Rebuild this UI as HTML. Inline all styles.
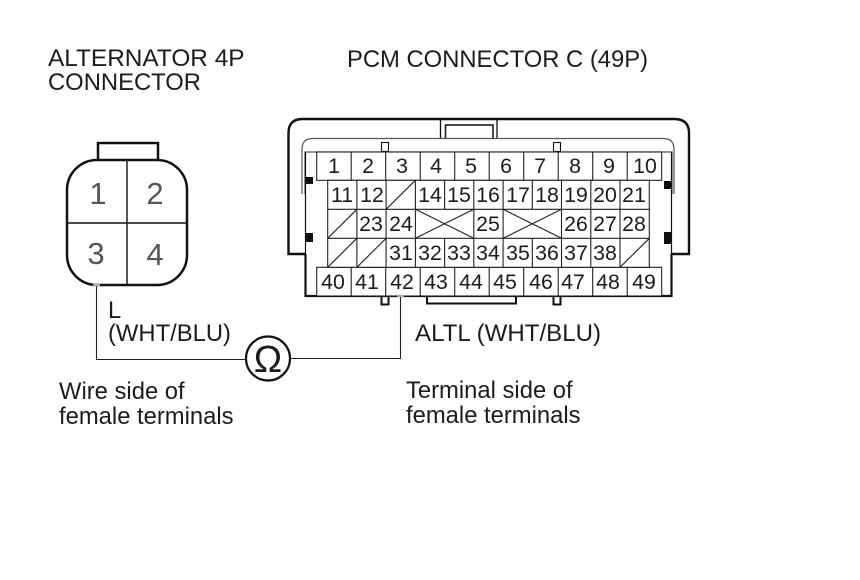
<!DOCTYPE html>
<html><head><meta charset="utf-8"><style>
html,body{margin:0;padding:0;background:#fff}
svg{display:block}
text{font-family:"Liberation Sans",sans-serif;fill:#1c1c1c}
.t{font-size:23.8px}
.n{font-size:21.3px;text-anchor:middle}
.a{font-size:31px;text-anchor:middle;fill:#555}
.b{font-size:38px;text-anchor:middle}
</style></head><body>
<svg width="860" height="580" viewBox="0 0 860 580" xmlns="http://www.w3.org/2000/svg">
<rect width="860" height="580" fill="#fff"/>
<text class="t" x="48" y="66" style="font-size:24.4px">ALTERNATOR 4P</text>
<text class="t" x="48" y="90">CONNECTOR</text>
<text class="t" x="347" y="67">PCM CONNECTOR C (49P)</text>

<!-- alternator -->
<g fill="none" stroke="#111">
<path d="M98 160V143H158V160" stroke-width="2.5"/>
<rect x="67" y="160" width="120" height="125" rx="30" stroke-width="2.5"/>
<path d="M127 160V285M67 223H187" stroke-width="1.4"/>
</g>
<text class="a" x="98" y="204">1</text>
<text class="a" x="155" y="204">2</text>
<text class="a" x="96" y="264">3</text>
<text class="a" x="155" y="265">4</text>

<!-- PCM housing -->
<g fill="none" stroke="#111">
<path d="M305 254H288.500V133Q288.500 119 303 119H674Q689 119 689 133V254H672" stroke-width="2.4"/>
<path d="M440.500 119V138M497 119V138" stroke-width="1.3"/>
<path d="M445.500 138V125H493V138" stroke-width="1.5"/>
<path d="M302 194V149Q302 138.500 313 138.500H663Q674 138.500 674 149V194" stroke="#555" stroke-width="1.2"/>
<path d="M305 194V152H672V194" stroke="#555" stroke-width="1.2"/>
<path d="M305.500 254V296H671.500V254" stroke-width="2.2"/>
<path d="M305.500 152V254M671.500 152V254" stroke-width="1.2"/>
<rect x="381.500" y="142.500" width="7" height="9" stroke-width="1.1"/>
<rect x="553.500" y="142.500" width="7" height="9" stroke-width="1.1"/>
<path d="M381.500 296V304.500H388.500V296M553.500 296V304.500H560.500V296" stroke-width="2"/>
<path d="M427 296V303.500H516V296" stroke-width="2"/>
</g>
<g fill="#111">
<rect x="305" y="177" width="8" height="7"/>
<rect x="305" y="233" width="8" height="9"/>
<rect x="664" y="181" width="8" height="8"/>
<rect x="664" y="232" width="8" height="12"/>
</g>

<!-- Grid -->
<g fill="#fff" stroke="#222" stroke-width="1.1">
<rect x="316.700" y="152" width="345" height="28.300"/>
<rect x="316.700" y="267.300" width="345" height="28.700"/>
<rect x="327.700" y="180.300" width="321.600" height="87"/>
</g>
<g fill="none" stroke="#222" stroke-width="1.1">
<path d="M351.200 152V180.300M385.700 152V180.300M420.200 152V180.300M454.700 152V180.300M489.200 152V180.300M523.700 152V180.300M558.200 152V180.300M592.700 152V180.300M627.200 152V180.300"/>
<path d="M351.200 267.300V296M385.700 267.300V296M420.200 267.300V296M454.700 267.300V296M489.200 267.300V296M523.700 267.300V296M558.200 267.300V296M592.700 267.300V296M627.200 267.300V296"/>
<path d="M327.700 209.300H649.300M327.700 238.300H649.300"/>
<path d="M356.900 180.300V267.300M386.100 180.300V267.300M415.400 180.300V267.300M444.600 180.300V209.300M444.600 238.300V267.300M473.800 180.300V267.300M503.100 180.300V267.300M532.300 180.300V209.300M532.300 238.300V267.300M561.500 180.300V267.300M590.800 180.300V267.300M620 180.300V267.300"/>
<path d="M386.100 209.300L415.400 180.300M327.700 238.300L356.900 209.300M327.700 267.300L356.900 238.300M356.900 267.300L386.100 238.300M620 267.300L649.300 238.300"/>
<path d="M415.400 209.300L473.800 238.300M415.400 238.300L473.800 209.300M503.100 209.300L561.500 238.300M503.100 238.300L561.500 209.300"/>
</g>
<g class="nums">
<text class="n" x="334" y="173">1</text><text class="n" x="368" y="173">2</text><text class="n" x="402" y="173">3</text><text class="n" x="436" y="173">4</text><text class="n" x="471" y="173">5</text><text class="n" x="506" y="173">6</text><text class="n" x="540" y="173">7</text><text class="n" x="575" y="173">8</text><text class="n" x="609" y="173">9</text><text class="n" x="645" y="173">10</text>
<text class="n" x="342" y="202">11</text><text class="n" x="372" y="202">12</text><text class="n" x="430" y="202">14</text><text class="n" x="459" y="202">15</text><text class="n" x="488" y="202">16</text><text class="n" x="518" y="202">17</text><text class="n" x="547" y="202">18</text><text class="n" x="576" y="202">19</text><text class="n" x="605" y="202">20</text><text class="n" x="634" y="202">21</text>
<text class="n" x="371" y="231">23</text><text class="n" x="401" y="231">24</text><text class="n" x="488" y="231">25</text><text class="n" x="576" y="231">26</text><text class="n" x="605" y="231">27</text><text class="n" x="634" y="231">28</text>
<text class="n" x="401" y="260">31</text><text class="n" x="430" y="260">32</text><text class="n" x="459" y="260">33</text><text class="n" x="488" y="260">34</text><text class="n" x="518" y="260">35</text><text class="n" x="547" y="260">36</text><text class="n" x="576" y="260">37</text><text class="n" x="605" y="260">38</text>
<text class="n" x="333" y="289">40</text><text class="n" x="367" y="289">41</text><text class="n" x="402" y="289">42</text><text class="n" x="436" y="289">43</text><text class="n" x="471" y="289">44</text><text class="n" x="505" y="289">45</text><text class="n" x="541" y="289">46</text><text class="n" x="573" y="289">47</text><text class="n" x="608" y="289">48</text><text class="n" x="644" y="289">49</text>
</g>

<!-- Wires -->
<path d="M96.500 285V359.500H246M290 358.500H400.500V297" fill="none" stroke="#222" stroke-width="1.1"/>
<path d="M93 285H100M397 296H404" stroke="#aaa" stroke-width="2.4" fill="none"/>
<circle cx="268" cy="358.500" r="22" fill="#fff" stroke="#111" stroke-width="2.2"/>
<text class="b" x="268" y="372">Ω</text>

<text class="t" x="108" y="318">L</text>
<text class="t" x="108" y="341">(WHT/BLU)</text>
<text class="t" x="415" y="341" style="font-size:24.1px">ALTL (WHT/BLU)</text>
<text class="t" x="59" y="399">Wire side of</text>
<text class="t" x="59" y="424">female terminals</text>
<text class="t" x="406" y="398">Terminal side of</text>
<text class="t" x="406" y="423">female terminals</text>
</svg>
</body></html>
